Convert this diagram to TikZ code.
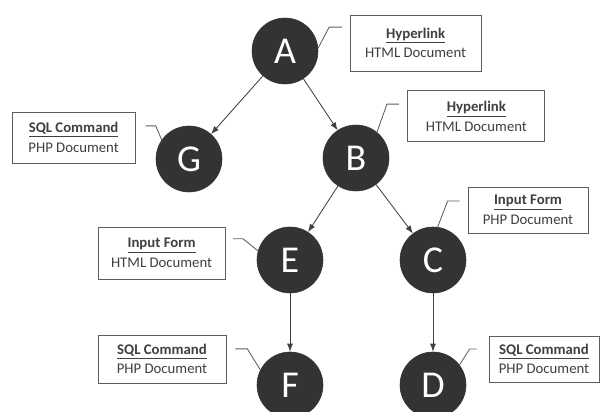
\documentclass[tikz,border=0pt]{standalone}
\usepackage{fontspec}
\setmainfont{Carlito}
\usepackage{tikz}
\usetikzlibrary{arrows.meta, positioning}
\definecolor{nodegray}{HTML}{333333}
\definecolor{linegray}{HTML}{404040}
\tikzset{
  pagenode/.style={circle, fill=nodegray, draw=nodegray, minimum size=1.65cm, inner sep=0pt,
              text=white, font=\fontsize{27}{30}\selectfont},
  infobox/.style={rectangle, draw=linegray!85, line width=0.6pt, fill=white,
              minimum width=3.2cm, minimum height=1.25cm, inner sep=2pt,
              font=\fontsize{10.5}{14}\selectfont, align=center, text=linegray},
  arrow/.style={-{Latex[length=2mm, width=1.5mm]}, draw=linegray, line width=0.6pt},
  leader/.style={draw=linegray!85, line width=0.6pt},
}
\newcommand{\boxtext}[2]{\underline{\textbf{#1}}\\#2}

\begin{document}
\begin{tikzpicture}
      \useasboundingbox (0,0) rectangle (15,10.3);
      % pages
      \node[pagenode] (A) at (7.125, 9.025) {A};
      \node[pagenode] (G) at (4.725, 6.325) {G};
      \node[pagenode] (B) at (8.9, 6.35) {B};
      \node[pagenode] (E) at (7.25, 3.8) {E};
      \node[pagenode] (C) at (10.825, 3.8) {C};
      \node[pagenode] (F) at (7.25, 0.675) {F};
      \node[pagenode] (D) at (10.825, 0.675) {D};

      % links between pages
      \draw[arrow] (A) -- (G);
      \draw[arrow] (A) -- (B);
      \draw[arrow] (B) -- (E);
      \draw[arrow] (B) -- (C);
      \draw[arrow] (E) -- (F);
      \draw[arrow] (C) -- (D);

      % info boxes
      \node[infobox, minimum width=3.275cm, minimum height=1.4cm] (infoA) at (10.39, 9.225) {\boxtext{Hyperlink}{HTML Document}};
      \node[infobox, minimum width=3.425cm, minimum height=1.275cm] (infoB) at (11.91, 7.39) {\boxtext{Hyperlink}{HTML Document}};
      \node[infobox, minimum width=3.075cm, minimum height=1.275cm] (infoG) at (1.84, 6.86) {\boxtext{SQL Command}{PHP Document}};
      \node[infobox, minimum width=3.175cm, minimum height=1.3cm] (infoE) at (4.04, 3.975) {\boxtext{Input Form}{HTML Document}};
      \node[infobox, minimum width=3.2cm, minimum height=1.2cm] (infoF) at (4.05, 1.325) {\boxtext{SQL Command}{PHP Document}};
      \node[infobox, minimum width=3.0cm, minimum height=1.15cm] (infoC) at (13.2, 5.05) {\boxtext{Input Form}{PHP Document}};
      \node[infobox, minimum width=2.75cm, minimum height=1.15cm] (infoD) at (13.6, 1.325) {\boxtext{SQL Command}{PHP Document}};

      % leader lines
      \draw[leader] (A.5) -- ++(0.275,0.525) -- ++(0.325,0);
      \draw[leader] (B.51) -- ++(0.25,0.7) -- ++(0.3,0);
      \draw[leader] (G.145) -- ++(-0.15,0.35) -- ++(-0.25,0);
      \draw[leader] (E.164) -- ++(-0.375,0.3) -- ++(-0.25,0);
      \draw[leader] (F.153) -- ++(-0.325,0.525) -- ++(-0.3,0);
      \draw[leader] (C.82) -- ++(0.25,0.65) -- ++(0.3,0);
      \draw[leader] (D.37) -- ++(0.25,0.4) -- ++(0.175,0);
\end{tikzpicture}
\end{document}
